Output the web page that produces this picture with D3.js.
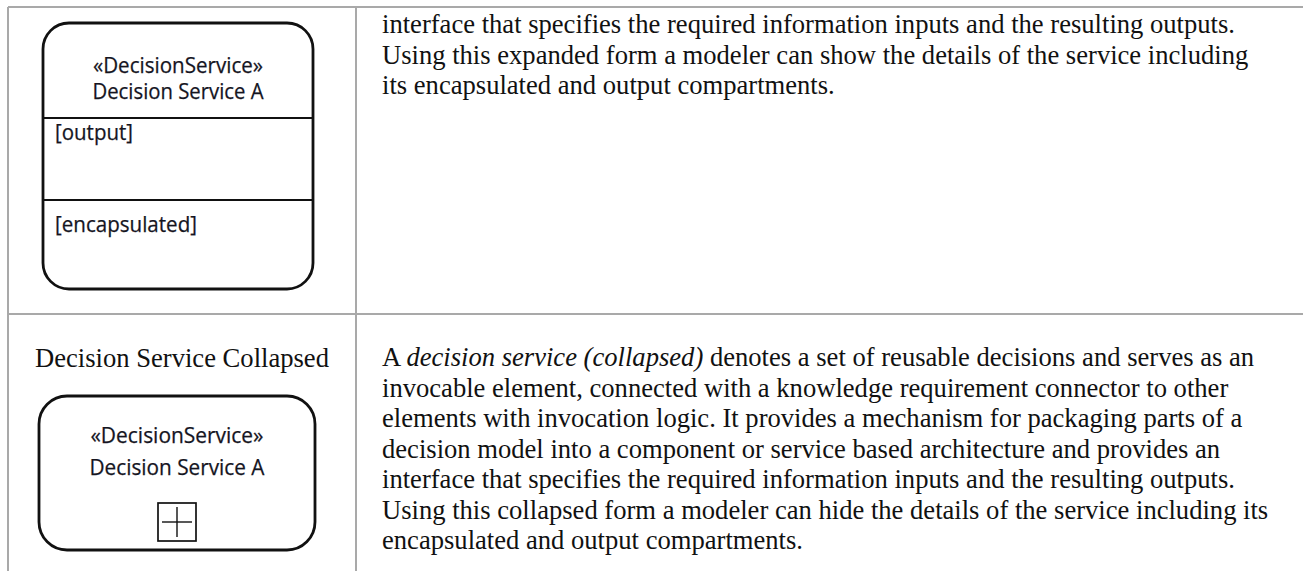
<!DOCTYPE html>
<html>
<head>
<meta charset="utf-8">
<script src="https://cdn.jsdelivr.net/npm/d3@7"></script>
<style>
  html, body { margin: 0; padding: 0; background: #fff; }
  svg { display: block; }
</style>
</head>
<body>
<svg id="chart" width="1303" height="571"></svg>
<script>
// ---- data ----
const rowNames = ["Decision Service Expanded", "Decision Service Collapsed"];
const rowLabels = ["", "Decision Service Collapsed"];
const stereotype = "\u00abDecisionService\u00bb";
const elementName = "Decision Service A";
const compartments = ["[output]", "[encapsulated]"];
const expandedText = [
  "interface that specifies the required information inputs and the resulting outputs.",
  "Using this expanded form a modeler can show the details of the service including",
  "its encapsulated and output compartments."
];
const collapsedText = [
  [{t: "A ", i: false}, {t: "decision service (collapsed)", i: true}, {t: " denotes a set of reusable decisions and serves as an", i: false}],
  [{t: "invocable element, connected with a knowledge requirement connector to other", i: false}],
  [{t: "elements with invocation logic. It provides a mechanism for packaging parts of a", i: false}],
  [{t: "decision model into a component or service based architecture and provides an", i: false}],
  [{t: "interface that specifies the required information inputs and the resulting outputs.", i: false}],
  [{t: "Using this collapsed form a modeler can hide the details of the service including its", i: false}],
  [{t: "encapsulated and output compartments.", i: false}]
];

// ---- layout ----
const W = 1303, H = 571;
const svg = d3.select("#chart");
const gridColor = "#a9a9a9";
const serif = "'Liberation Serif', 'Times New Roman', serif";
const sans = "'Open Sans', 'Noto Sans', sans-serif";
const serifSize = 26.6;
const sansSize = 21;

// table geometry via scales
const x = d3.scaleLinear().domain([0, 1, 2]).range([8, 356, W + 2]);
const y = d3.scaleLinear().domain([0, 1, 2]).range([7, 314, H + 40]);
const lineH = 30.5;

// grid lines
const grid = svg.append("g").attr("stroke", gridColor).attr("stroke-width", 2).attr("fill", "none");
grid.append("line").attr("x1", x(0)).attr("x2", x(2)).attr("y1", y(0)).attr("y2", y(0));
grid.append("line").attr("x1", x(0)).attr("x2", x(2)).attr("y1", y(1)).attr("y2", y(1));
grid.append("line").attr("x1", x(0)).attr("x2", x(0)).attr("y1", y(0)).attr("y2", H);
grid.append("line").attr("x1", x(1)).attr("x2", x(1)).attr("y1", y(0)).attr("y2", H);

// right column text - top row
const textX = x(1) + 26;
const topLines = d3.scaleLinear().domain([0, 1]).range([33, 33 + lineH]);
svg.append("g").selectAll("text").data(expandedText).join("text")
  .attr("x", textX).attr("y", (d, i) => topLines(i))
  .attr("font-family", serif).attr("font-size", serifSize).attr("fill", "#111")
  .text(d => d);

// right column text - bottom row
const botLines = d3.scaleLinear().domain([0, 1]).range([366, 366 + lineH]);
svg.append("g").selectAll("text").data(collapsedText).join("text")
  .attr("x", textX).attr("y", (d, i) => botLines(i))
  .attr("font-family", serif).attr("font-size", serifSize).attr("fill", "#111")
  .each(function(d) {
    d3.select(this).selectAll("tspan").data(d).join("tspan")
      .attr("font-style", s => s.i ? "italic" : "normal")
      .text(s => s.t);
  });

// left column label in bottom row
const colCenter = (x(0) + x(1)) / 2;
svg.append("text").attr("x", colCenter).attr("y", 367)
  .attr("text-anchor", "middle").attr("font-family", serif).attr("font-size", serifSize).attr("fill", "#111")
  .text(rowLabels[1]);

// ---- expanded shape ----
const boxColor = "#111";
const textColor = "#15151f";
const exp = {x0: 43, x1: 313, y0: 23, y1: 289, r: 26};
const eg = svg.append("g");
eg.append("rect").attr("x", exp.x0).attr("y", exp.y0)
  .attr("width", exp.x1 - exp.x0).attr("height", exp.y1 - exp.y0)
  .attr("rx", exp.r).attr("ry", exp.r)
  .attr("fill", "#fff").attr("stroke", boxColor).attr("stroke-width", 2.8);
const divY = [118, 200];
eg.selectAll("line.div").data(divY).join("line").attr("class", "div")
  .attr("x1", exp.x0).attr("x2", exp.x1).attr("y1", d => d).attr("y2", d => d)
  .attr("stroke", boxColor).attr("stroke-width", 2);
const cx = (exp.x0 + exp.x1) / 2;
const hdrWidths = [170, 171];
eg.selectAll("text.hdr").data([stereotype, elementName]).join("text").attr("class", "hdr")
  .attr("x", cx).attr("y", (d, i) => [73, 99][i])
  .attr("text-anchor", "middle").attr("font-family", sans).attr("font-size", sansSize)
  .attr("textLength", (d, i) => hdrWidths[i]).attr("lengthAdjust", "spacingAndGlyphs")
  .attr("fill", textColor).attr("stroke", textColor).attr("stroke-width", 0.25).text(d => d);
const cmpWidths = [78, 142];
eg.selectAll("text.cmp").data(compartments).join("text").attr("class", "cmp")
  .attr("x", 55).attr("y", (d, i) => [140, 232][i])
  .attr("font-family", sans).attr("font-size", sansSize)
  .attr("textLength", (d, i) => cmpWidths[i]).attr("lengthAdjust", "spacingAndGlyphs")
  .attr("fill", textColor).attr("stroke", textColor).attr("stroke-width", 0.25).text(d => d);

// ---- collapsed shape ----
const col = {x0: 39, x1: 315, y0: 396, y1: 550, r: 28};
const cg = svg.append("g");
cg.append("rect").attr("x", col.x0).attr("y", col.y0)
  .attr("width", col.x1 - col.x0).attr("height", col.y1 - col.y0)
  .attr("rx", col.r).attr("ry", col.r)
  .attr("fill", "#fff").attr("stroke", boxColor).attr("stroke-width", 2.8);
const ccx = (col.x0 + col.x1) / 2;
const hdrWidths2 = [173, 175];
cg.selectAll("text.hdr").data([stereotype, elementName]).join("text").attr("class", "hdr")
  .attr("x", ccx).attr("y", (d, i) => [443, 475][i])
  .attr("text-anchor", "middle").attr("font-family", sans).attr("font-size", sansSize)
  .attr("textLength", (d, i) => hdrWidths2[i]).attr("lengthAdjust", "spacingAndGlyphs")
  .attr("fill", textColor).attr("stroke", textColor).attr("stroke-width", 0.25).text(d => d);
// plus marker
const ps = 38, pcy = 522;
cg.append("rect").attr("x", ccx - ps / 2).attr("y", pcy - ps / 2).attr("width", ps).attr("height", ps)
  .attr("fill", "none").attr("stroke", boxColor).attr("stroke-width", 1.7);
cg.append("line").attr("x1", ccx - ps / 2 + 4).attr("x2", ccx + ps / 2 - 4).attr("y1", pcy).attr("y2", pcy)
  .attr("stroke", boxColor).attr("stroke-width", 1.4);
cg.append("line").attr("x1", ccx).attr("x2", ccx).attr("y1", pcy - ps / 2 + 4).attr("y2", pcy + ps / 2 - 4)
  .attr("stroke", boxColor).attr("stroke-width", 1.4);
</script>
</body>
</html>
